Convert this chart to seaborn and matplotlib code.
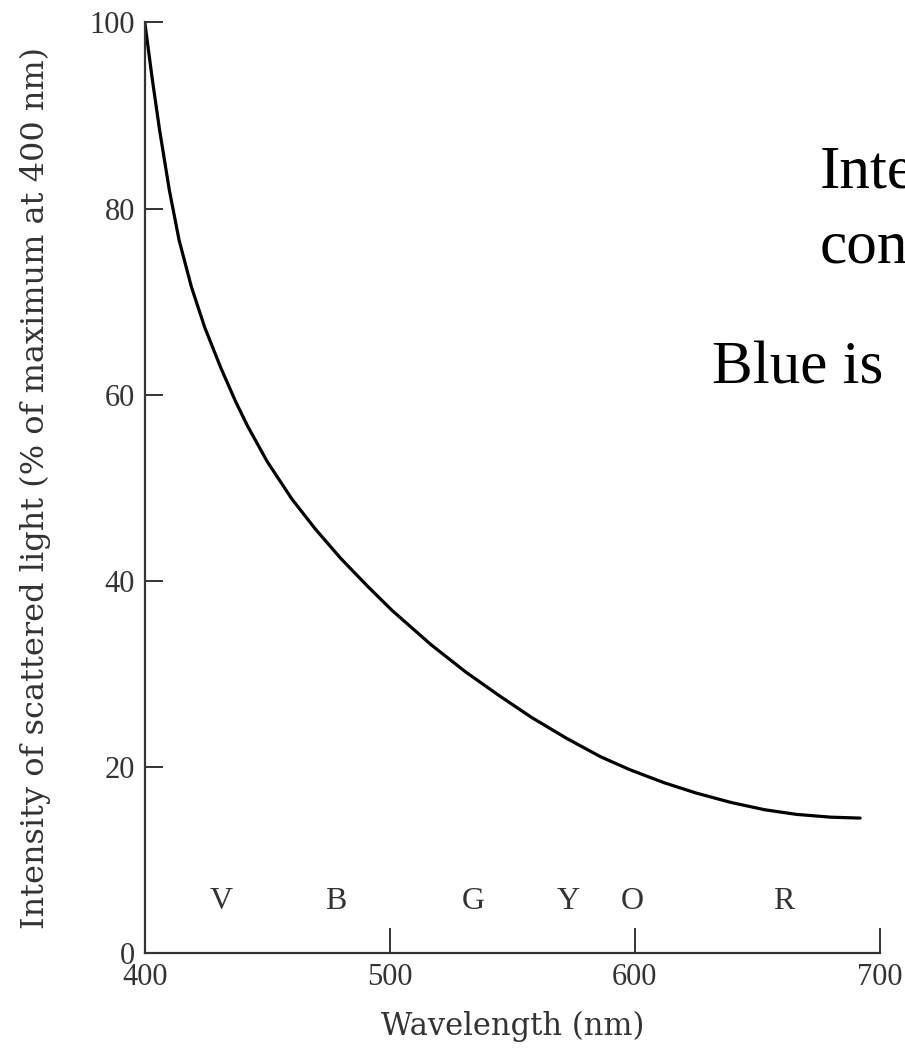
import matplotlib
matplotlib.use("Agg")
import matplotlib.pyplot as plt
import seaborn as sns
import pandas as pd

# ---- data ----
wavelength = [400, 401.5, 403, 406, 410, 414, 419, 424.5, 431, 437, 442, 450, 460,
              469.5, 480, 491, 501, 517, 531, 545, 558, 572, 586, 598, 612, 625,
              639, 653, 666, 680, 692]
intensity = [100, 97, 94, 88.5, 82, 76.6, 71.6, 67.2, 62.9, 59.3, 56.6, 52.8, 48.8,
             45.6, 42.4, 39.4, 36.8, 33.1, 30.2, 27.6, 25.3, 23.1, 21.1, 19.7, 18.3,
             17.2, 16.2, 15.4, 14.9, 14.6, 14.5]
color_letters = ["V", "B", "G", "Y", "O", "R"]
letter_pos = [431, 478, 534, 573, 599, 661]
x_ticks = [400, 500, 600, 700]
y_ticks = [0, 20, 40, 60, 80, 100]
slide_lines = ["Inte", "con", "Blue is"]

sns.set_theme(style="white")
plt.rcParams["font.family"] = ["Liberation Serif", "DejaVu Serif"]

fig = plt.figure(figsize=(9.05, 10.6), dpi=100)
ax = fig.add_axes([0.160, 0.1009, 0.812, 0.878])

df = pd.DataFrame({"Wavelength": wavelength, "Intensity": intensity})
sns.lineplot(data=df, x="Wavelength", y="Intensity", color="black", linewidth=2.3, ax=ax)

ax.set_xlim(400, 700)
ax.set_ylim(0, 100)
ax.set_xticks(x_ticks)
ax.set_yticks(y_ticks)
ax.set_xticklabels([str(t) for t in x_ticks])
ax.set_yticklabels([str(t) for t in y_ticks])
for s in ["top", "right"]:
    ax.spines[s].set_visible(False)
for s in ["left", "bottom"]:
    ax.spines[s].set_color("#333333")
    ax.spines[s].set_linewidth(1.6)

ax.tick_params(axis="x", direction="in", length=18, width=1.4, color="#333333",
               labelsize=22, labelcolor="#333333", pad=7)
ax.tick_params(axis="y", direction="in", length=13, width=1.4, color="#333333",
               labelsize=22, labelcolor="#333333", pad=7)
ax.tick_params(axis="both", left=True, bottom=True)

ax.set_xlabel("Wavelength (nm)", fontsize=22, color="#333333", labelpad=14,
              family=["DejaVu Serif"])
ax.set_ylabel("Intensity of scattered light (% of maximum at 400 nm)",
              fontsize=23, color="#333333", labelpad=28, family=["DejaVu Serif"])

for lab, pos in zip(color_letters, letter_pos):
    ax.text(pos, 5.5, lab, fontsize=23, color="#333333", ha="center", va="center")

fig.text(820 / 905, 1 - 188 / 1060, slide_lines[0], fontsize=44, color="black",
         ha="left", va="baseline")
fig.text(820 / 905, 1 - 262 / 1060, slide_lines[1], fontsize=44, color="black",
         ha="left", va="baseline")
fig.text(712 / 905, 1 - 383 / 1060, slide_lines[2], fontsize=44, color="black",
         ha="left", va="baseline")

fig.savefig("out.png", dpi=100, facecolor="white")
